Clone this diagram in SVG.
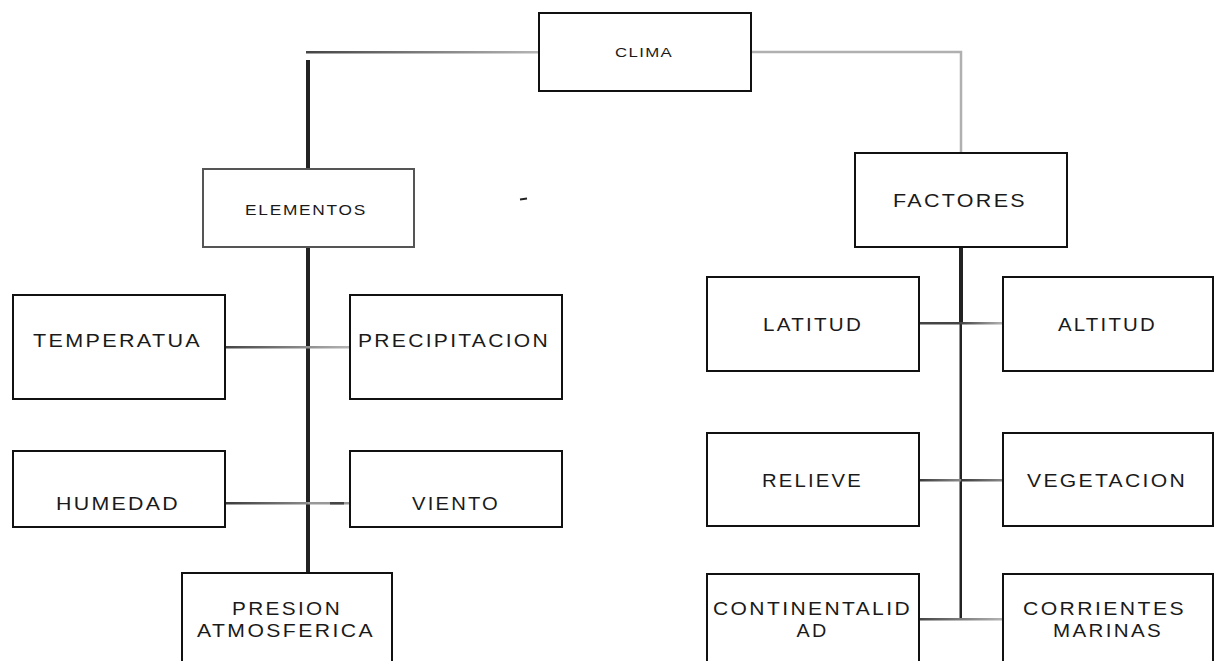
<svg xmlns="http://www.w3.org/2000/svg" width="1220" height="661" viewBox="0 0 1220 661">
<style>
.box{fill:#fff;stroke:#111;stroke-width:2}
.boxg{fill:#fff;stroke:#555;stroke-width:2}
text{font-family:"Liberation Sans",Arial,sans-serif;fill:#1a1a1a;text-anchor:middle;letter-spacing:2px}
.t18{font-size:18.5px}
.t17{font-size:17.5px}
.dk{fill:#222}
</style>
<defs>
<linearGradient id="gDL" x1="0" y1="0" x2="1" y2="0">
<stop offset="0" stop-color="#444"/><stop offset="1" stop-color="#b5b5b5"/>
</linearGradient>
<linearGradient id="gDM" x1="0" y1="0" x2="1" y2="0">
<stop offset="0" stop-color="#3a3a3a"/><stop offset="1" stop-color="#8a8a8a"/>
</linearGradient>
</defs>
<rect width="1220" height="661" fill="#fff"/>
<g id="connectors">
<rect x="306" y="51" width="233" height="2.5" fill="url(#gDL)"/>
<polyline points="751,52 961,52 961,153" fill="none" stroke="#b0b0b0" stroke-width="2.5"/>
<rect x="306" y="60" width="4" height="109" class="dk"/>
<rect x="306" y="247" width="4" height="326" class="dk"/>
<rect x="225" y="346" width="125" height="2.5" fill="url(#gDL)"/>
<rect x="225" y="502" width="83" height="2.5" fill="url(#gDM)"/>
<rect x="308" y="502" width="42" height="2.5" fill="#999"/>
<rect x="330" y="502" width="14" height="2.5" fill="#444"/>
<rect x="959" y="247" width="4" height="76" class="dk"/>
<rect x="959.5" y="323" width="2.5" height="296" class="dk"/>
<rect x="919" y="322" width="42" height="2.5" fill="#444"/>
<rect x="961" y="322" width="42" height="2.5" fill="url(#gDL)"/>
<rect x="919" y="479" width="42" height="2.5" fill="url(#gDM)"/>
<rect x="961" y="479" width="42" height="2.5" fill="url(#gDM)"/>
<rect x="919" y="618" width="84" height="2.5" fill="url(#gDL)"/>
<line x1="520" y1="199.5" x2="527" y2="198.5" stroke="#222" stroke-width="2"/>
</g>
<g id="clima"><rect class="box" x="539" y="13" width="212" height="78"/><text x="644" y="56.5" font-size="12.5" style="letter-spacing:1px" textLength="58" lengthAdjust="spacingAndGlyphs">CLIMA</text></g>
<g id="elementos"><rect class="boxg" x="203" y="169" width="211" height="78"/><text x="306" y="214.5" font-size="15" style="letter-spacing:1.5px" textLength="122" lengthAdjust="spacingAndGlyphs">ELEMENTOS</text></g>
<g id="factores"><rect class="box" x="855" y="153" width="212" height="94"/><text class="t18" x="960" y="206.5" textLength="134" lengthAdjust="spacingAndGlyphs">FACTORES</text></g>
<g id="temperatua"><rect class="box" x="13" y="295" width="212" height="104"/><text class="t18" x="117.5" y="346.5" textLength="169" lengthAdjust="spacingAndGlyphs">TEMPERATUA</text></g>
<g id="precipitacion"><rect class="box" x="350" y="295" width="212" height="104"/><text class="t18" x="454" y="346.5" textLength="192" lengthAdjust="spacingAndGlyphs">PRECIPITACION</text></g>
<g id="humedad"><rect class="box" x="13" y="451" width="212" height="76"/><text class="t18" x="118" y="510" textLength="124" lengthAdjust="spacingAndGlyphs">HUMEDAD</text></g>
<g id="viento"><rect class="box" x="350" y="451" width="212" height="76"/><text class="t18" x="456" y="510" textLength="88" lengthAdjust="spacingAndGlyphs">VIENTO</text></g>
<g id="presion"><rect class="box" x="182" y="573" width="210" height="110"/><text class="t17" x="287" y="615" textLength="110" lengthAdjust="spacingAndGlyphs">PRESION</text><text class="t17" x="286" y="637" textLength="178" lengthAdjust="spacingAndGlyphs">ATMOSFERICA</text></g>
<g id="latitud"><rect class="box" x="707" y="277" width="212" height="94"/><text class="t18" x="813" y="331" textLength="100" lengthAdjust="spacingAndGlyphs">LATITUD</text></g>
<g id="altitud"><rect class="box" x="1003" y="277" width="210" height="94"/><text class="t18" x="1107.5" y="331" textLength="99" lengthAdjust="spacingAndGlyphs">ALTITUD</text></g>
<g id="relieve"><rect class="box" x="707" y="433" width="212" height="93"/><text class="t18" x="812.5" y="487" textLength="101" lengthAdjust="spacingAndGlyphs">RELIEVE</text></g>
<g id="vegetacion"><rect class="box" x="1003" y="433" width="210" height="93"/><text class="t18" x="1107" y="487" textLength="160" lengthAdjust="spacingAndGlyphs">VEGETACION</text></g>
<g id="continentalidad"><rect class="box" x="707" y="574" width="212" height="110"/><text class="t17" x="812.5" y="615" textLength="199" lengthAdjust="spacingAndGlyphs">CONTINENTALID</text><text class="t17" x="812.5" y="637" textLength="32" lengthAdjust="spacingAndGlyphs">AD</text></g>
<g id="corrientes"><rect class="box" x="1003" y="574" width="210" height="110"/><text class="t17" x="1104.5" y="615" textLength="163" lengthAdjust="spacingAndGlyphs">CORRIENTES</text><text class="t17" x="1108" y="637" textLength="110" lengthAdjust="spacingAndGlyphs">MARINAS</text></g>
</svg>
